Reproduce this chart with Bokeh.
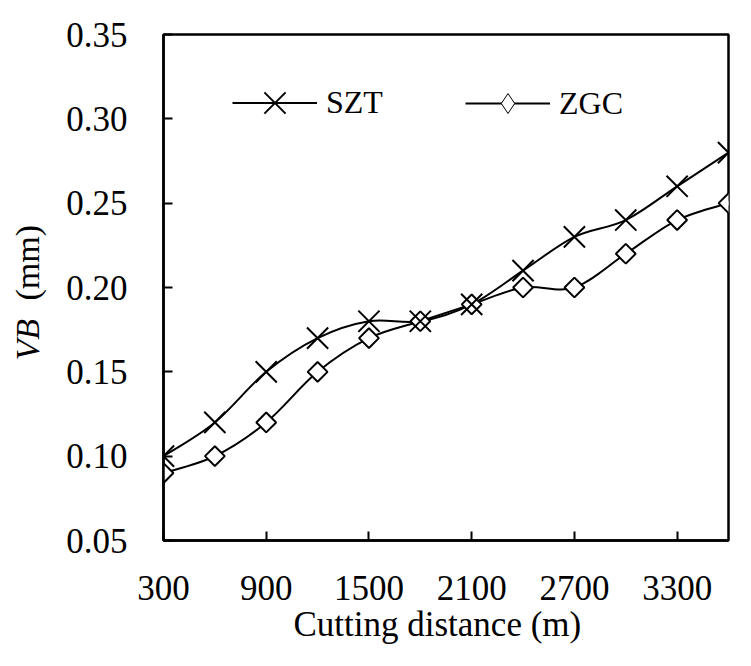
import numpy as np
from bokeh.plotting import figure
from bokeh.layouts import row
from bokeh.models import (Range1d, FixedTicker, NumeralTickFormatter, Label, Legend,
                          LegendItem, Title)
from bokeh.embed import file_html
from bokeh.resources import INLINE

# ---- data ----
distance = [300, 600, 900, 1200, 1500, 1800, 2100, 2400, 2700, 3000, 3300, 3600]
szt = [0.10, 0.12, 0.15, 0.17, 0.18, 0.18, 0.19, 0.21, 0.23, 0.24, 0.26, 0.28]
zgc = [0.09, 0.10, 0.12, 0.15, 0.17, 0.18, 0.19, 0.20, 0.20, 0.22, 0.24, 0.25]
x_ticks = [300, 900, 1500, 2100, 2700, 3300]
y_ticks = [0.05, 0.10, 0.15, 0.20, 0.25, 0.30, 0.35]
series_names = ["SZT", "ZGC"]
x_title = "Cutting distance (m)"
y_title_italic = "VB"
y_title_unit = "(mm)"

FONT = "Liberation Serif"
H = 650
LEFT_W = 60


def smooth_segments(xs, ys):
    """Catmull-Rom style bezier control points (Excel-like smoothed line)."""
    out = {}
    for key, v in (("x", xs), ("y", ys)):
        v = np.asarray(v, dtype=float)
        n = len(v)
        pad = np.concatenate([[v[0]], v, [v[-1]]])
        out[key + "0"] = v[:-1]
        out[key + "1"] = v[1:]
        out["c" + key + "0"] = pad[1:n] + (pad[2:n + 1] - pad[0:n - 1]) / 6.0
        out["c" + key + "1"] = pad[2:n + 1] - (pad[3:n + 2] - pad[1:n]) / 6.0
    return out


p = figure(
    frame_width=565, frame_height=506,
    min_border_left=163 - LEFT_W, min_border_top=34, min_border_right=15,
    min_border_bottom=H - 34 - 506,
    x_range=Range1d(300, 3600), y_range=Range1d(0.05, 0.35),
    output_backend="svg", toolbar_location=None,
)
p.background_fill_color = "white"
p.border_fill_color = "white"
p.xgrid.visible = False
p.ygrid.visible = False
p.outline_line_color = "black"
p.outline_line_width = 2.5
p.outline_line_alpha = 1.0

for ax in (p.xaxis[0], p.yaxis[0]):
    ax.axis_line_color = "black"
    ax.axis_line_width = 2.5
    ax.major_tick_line_color = "black"
    ax.major_tick_line_width = 2
    ax.major_tick_in = 9
    ax.major_tick_out = 0
    ax.minor_tick_line_color = None
    ax.major_label_text_font = FONT
    ax.major_label_text_font_size = "35px"
    ax.major_label_text_color = "black"

p.xaxis[0].ticker = FixedTicker(ticks=x_ticks)
p.yaxis[0].ticker = FixedTicker(ticks=y_ticks)
p.yaxis[0].formatter = NumeralTickFormatter(format="0.00")
p.xaxis[0].major_label_standoff = 35
p.yaxis[0].major_label_standoff = 36

# curves
seg1 = smooth_segments(distance, szt)
seg2 = smooth_segments(distance, zgc)
r_l1 = p.bezier(source=seg1, x0="x0", y0="y0", x1="x1", y1="y1",
                cx0="cx0", cy0="cy0", cx1="cx1", cy1="cy1",
                line_color="black", line_width=2)
r_l2 = p.bezier(source=seg2, x0="x0", y0="y0", x1="x1", y1="y1",
                cx0="cx0", cy0="cy0", cx1="cx1", cy1="cy1",
                line_color="black", line_width=2)
# small diamonds hidden under the plot markers; they give the legend its diamond sample
r_leg2 = p.scatter(distance, zgc, marker="diamond", size=6,
                   line_color="black", line_width=1, fill_color="white")
r_p2 = p.scatter(distance, zgc, marker="square", angle=np.pi / 4, size=14,
                 line_color="black", line_width=2, fill_color="white")
r_p1 = p.scatter(distance, szt, marker="x", size=30,
                 line_color="black", line_width=2)

common = dict(orientation="horizontal", padding=0, margin=0, spacing=0,
              border_line_alpha=0, background_fill_alpha=0,
              label_text_font=FONT, label_text_font_size="32px",
              label_text_color="black", label_standoff=9, glyph_width=85)
leg1 = Legend(items=[LegendItem(label=series_names[0], renderers=[r_l1, r_p1])],
              location=(69, 400), glyph_height=75, **common)
leg2 = Legend(items=[LegendItem(label=series_names[1], renderers=[r_l2, r_leg2])],
              location=(302, 412), glyph_height=50, **common)
p.add_layout(leg1)
p.add_layout(leg2)

# x axis title
p.add_layout(Title(text=x_title, align="left", offset=130, standoff=0,
                   text_font=FONT, text_font_size="35px", text_font_style="normal",
                   text_color="black"), "below")

# left strip carrying the y axis title (its frame is aligned with the main frame)
ly = figure(width=LEFT_W, height=H, x_range=Range1d(0, 1), y_range=Range1d(0, 1),
            x_axis_type=None, y_axis_type=None, min_border=0,
            output_backend="svg", toolbar_location=None)
ly.outline_line_color = None
ly.background_fill_color = "white"
ly.border_fill_color = "white"
ly.add_layout(Label(x=27, y=180, x_units="screen", y_units="screen",
                    text=y_title_italic, angle=np.pi / 2, text_align="left",
                    text_baseline="middle", text_font=FONT, text_font_style="italic",
                    text_font_size="34px", text_color="black"))
ly.add_layout(Label(x=27, y=240, x_units="screen", y_units="screen",
                    text=y_title_unit, angle=np.pi / 2, text_align="left",
                    text_baseline="middle", text_font=FONT,
                    text_font_size="34px", text_color="black"))

layout = row(ly, p, spacing=0)
open("out.html", "w").write(file_html(layout, INLINE))
